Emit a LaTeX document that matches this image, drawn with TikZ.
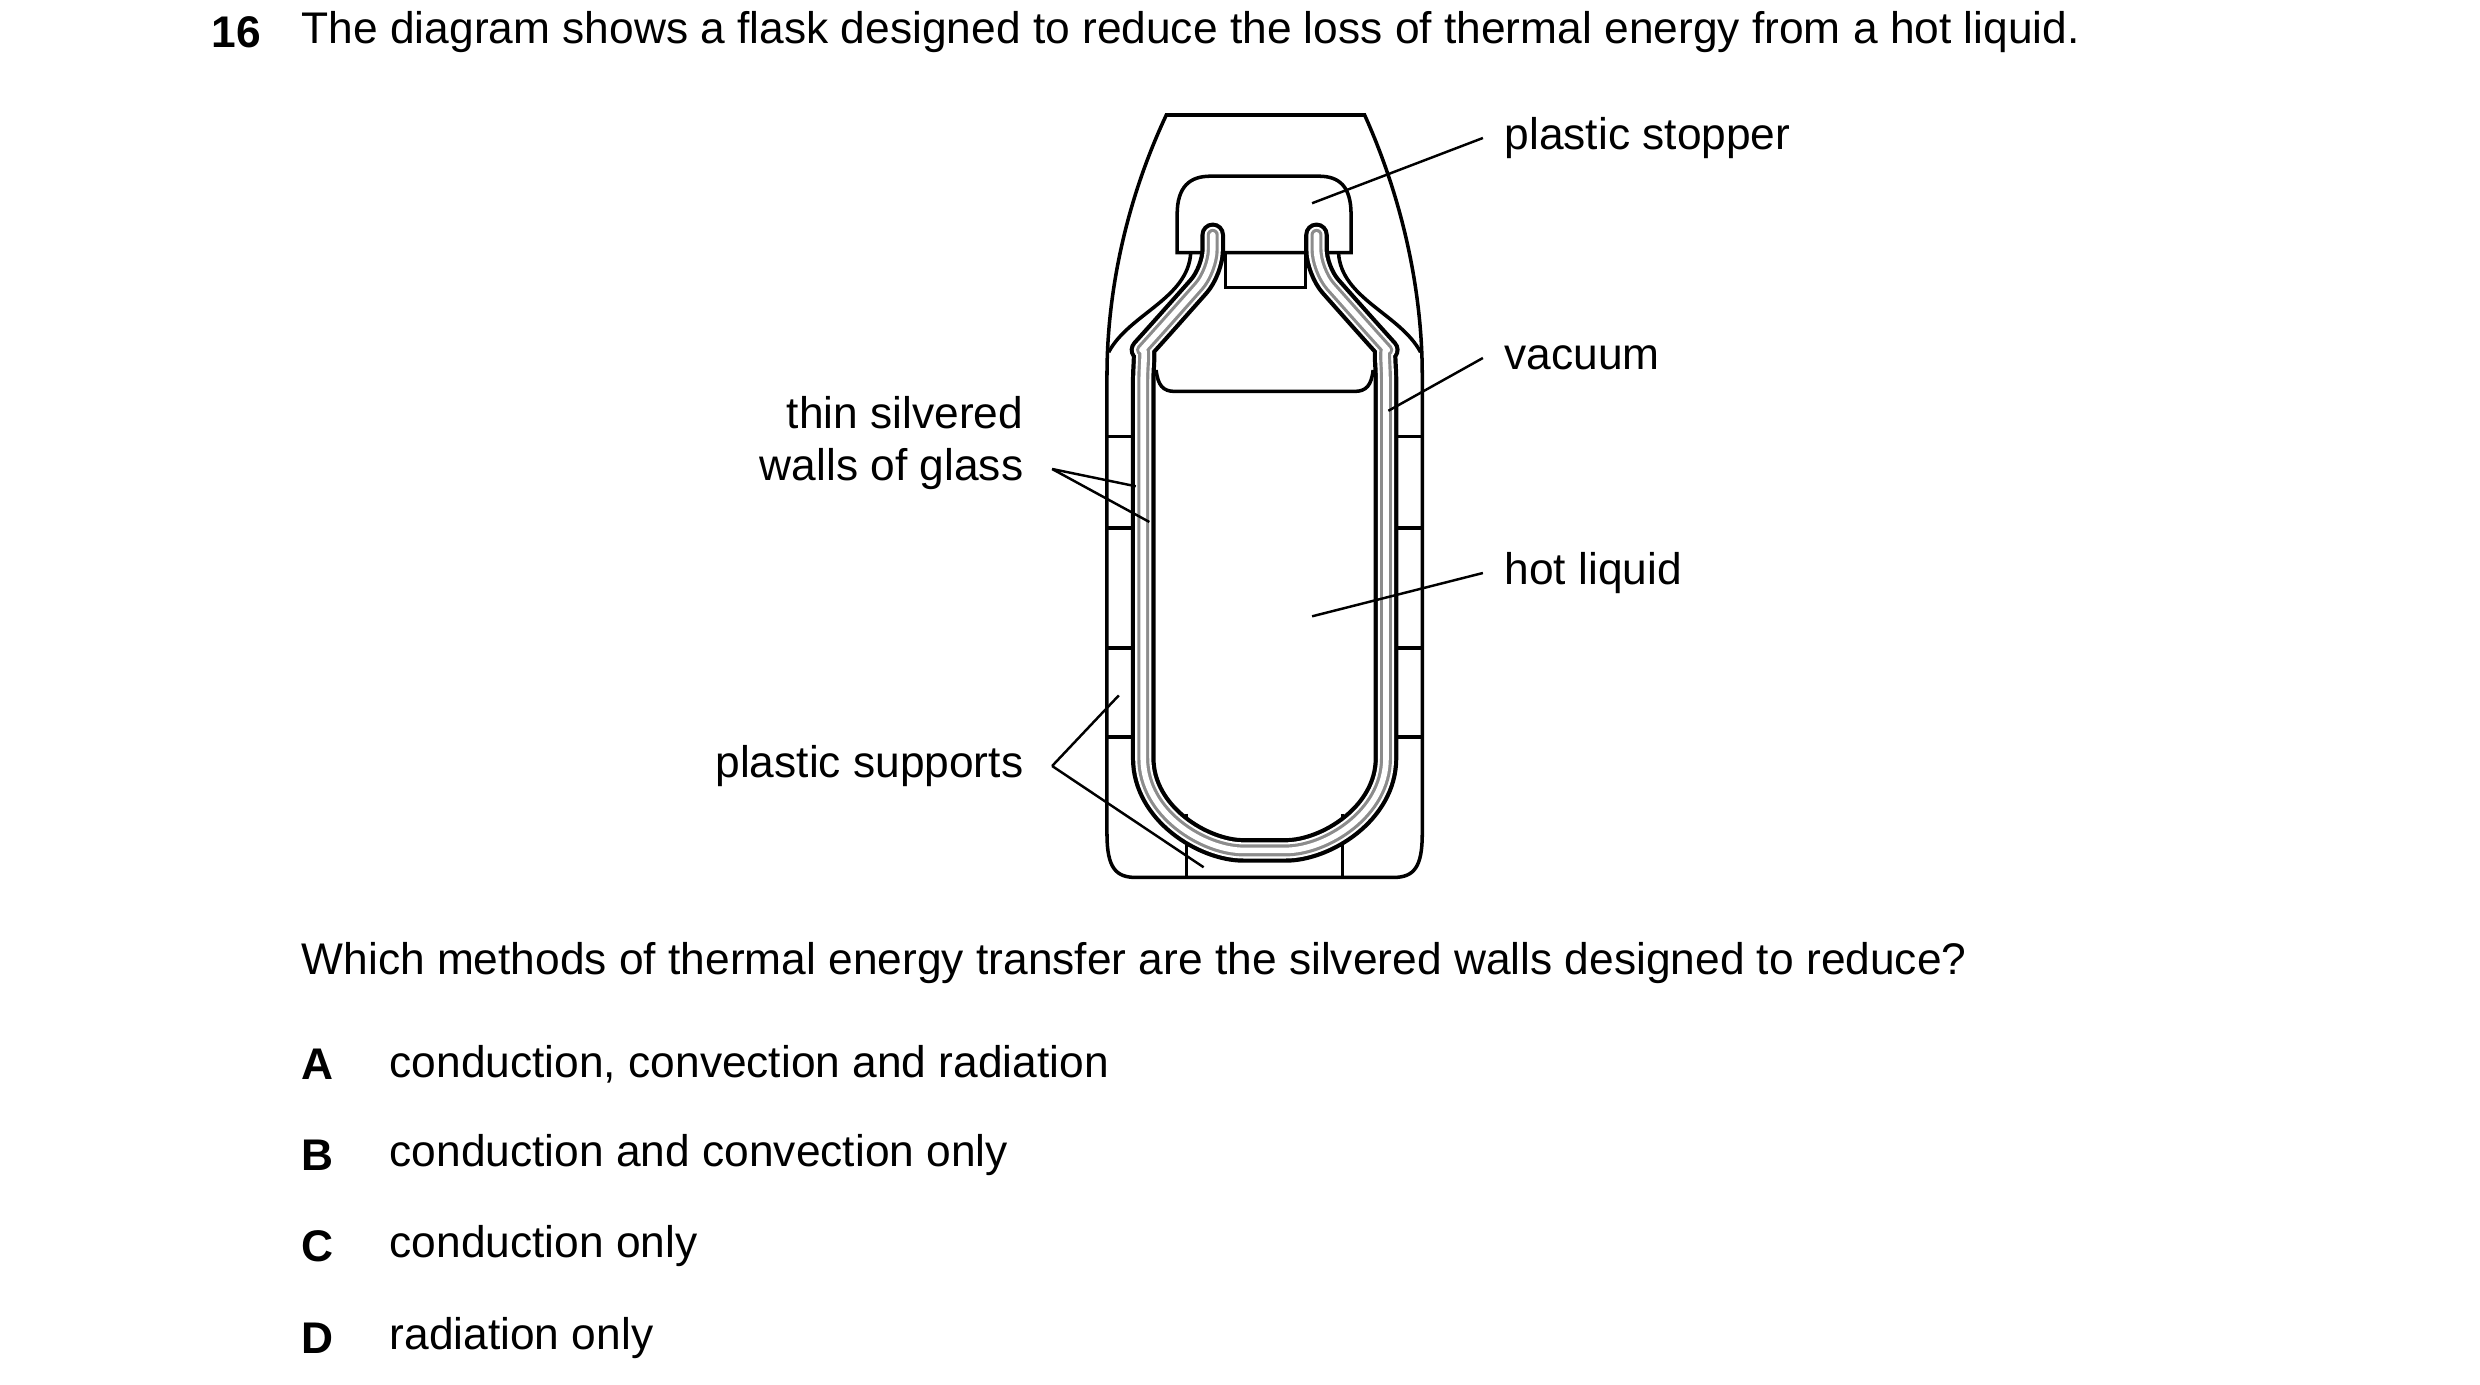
\documentclass[tikz,border=0pt]{standalone}
\usepackage{fontspec}
\setmainfont{Liberation Sans}
\begin{document}
\begin{tikzpicture}[x=0.01cm,y=-0.01cm,
  ln/.style={line width=1pt,black},
  lead/.style={line width=0.7pt,black},
  txt/.style={inner sep=0pt,font=\fontsize{12.6}{15}\selectfont},
  tube/.style={line cap=round,line join=round,rounded corners=6pt}]
\useasboundingbox[fill=white] (0,0) rectangle (2480,1385);
\begin{scope}[shift={(1101.9,99.7)},xscale=0.339,yscale=0.51]
 % casing
 \draw[ln] (190,30) -- (775,30) .. controls (890,200) and (945,380) .. (945,540) -- (945,1440) .. controls (945,1505) and (920,1525) .. (860,1525) -- (100,1525) .. controls (40,1525) and (15,1505) .. (15,1440) -- (15,540) .. controls (15,380) and (70,200) .. (190,30) -- cycle;
 \draw[ln] (20,495) .. controls (80,420) and (255,390) .. (262,300);
 \draw[ln] (940,495) .. controls (880,420) and (705,390) .. (698,300);
 % stopper
 \draw[ln,fill=white] (222,300) -- (222,225) .. controls (222,170) and (260,150) .. (320,150) -- (640,150) .. controls (700,150) and (735,170) .. (735,225) -- (735,300) -- cycle;
 \draw[ln] (365,300) rectangle (600,368);
 % supports
 \foreach \y in {660,840,1075,1250}{\draw[ln] (15,\y) -- (100,\y); \draw[ln] (860,\y) -- (945,\y);}
 \draw[ln] (250,1400) -- (250,1525);
 \draw[ln] (710,1400) -- (710,1525);
 % liquid surface
 \draw[ln] (160,530) .. controls (165,560) and (180,572) .. (215,572) -- (745,572) .. controls (780,572) and (795,560) .. (800,530);
 % glass tube
 \def\tubepath{(327,265) -- (327,335) -- (160,460) .. controls (130,482) and (122,520) .. (122,590) -- (122,1250) .. controls (122,1400) and (300,1472) .. (480,1472) .. controls (660,1472) and (838,1400) .. (838,1250) -- (838,590) .. controls (838,520) and (830,482) .. (800,460) -- (633,335) -- (633,265)}
 \draw[tube,line width=7pt,black] \tubepath;
 \draw[tube,line width=4.6pt,white] \tubepath;
 \draw[tube,line width=3.4pt,black!45] \tubepath;
 \draw[tube,line width=1.6pt,white] \tubepath;
 % leader anchors
 \coordinate (ps) at (620,203);
 \coordinate (va) at (845,610);
 \coordinate (hl) at (620,1013);
 \coordinate (g1) at (100,758);
 \coordinate (g2) at (140,828);
 \coordinate (s1) at (50,1168);
 \coordinate (s2) at (300,1505);
\end{scope}
% labels
\node[txt,anchor=west] (lps) at (1504,138) {plastic stopper};
\node[txt,anchor=west] (lva) at (1504,358) {vacuum};
\node[txt,anchor=west] (lhl) at (1504,573) {hot liquid};
\node[txt,anchor=east] (lg0) at (1024,413) {thin silvered};
\node[txt,anchor=east] (lg) at (1024,469) {walls of glass};
\node[txt,anchor=east] (lsp) at (1024,766) {plastic supports};
\draw[lead] (ps) -- ([xshift=-6]lps.west);
\draw[lead] (va) -- ([xshift=-6]lva.west);
\draw[lead] (hl) -- ([xshift=-6]lhl.west);
\coordinate (gs) at ([xshift=8]lg.east);
\draw[lead] (gs) -- (g1); \draw[lead] (gs) -- (g2);
\coordinate (ss) at ([xshift=8]lsp.east);
\draw[lead] (ss) -- (s1); \draw[lead] (ss) -- (s2);
% question text
\node[txt,anchor=west,font=\fontsize{12.6}{15}\selectfont\bfseries] (qn) at (211,32) {16};
\node[txt,anchor=west] (qt) at (301,32) {The diagram shows a flask designed to reduce the loss of thermal energy from a hot liquid.};
\node[txt,anchor=west] (q2) at (301,963) {Which methods of thermal energy transfer are the silvered walls designed to reduce?};
\foreach \l/\t/\y in {A/{conduction, convection and radiation}/1064, B/{conduction and convection only}/1155, C/{conduction only}/1246, D/{radiation only}/1338}{
  \node[txt,anchor=west,font=\fontsize{12.6}{15}\selectfont\bfseries] (o\l) at (301,\y) {\l};
  \node[txt,anchor=west] (t\l) at (389,\y) {\t};
}
\end{tikzpicture}
\end{document}
